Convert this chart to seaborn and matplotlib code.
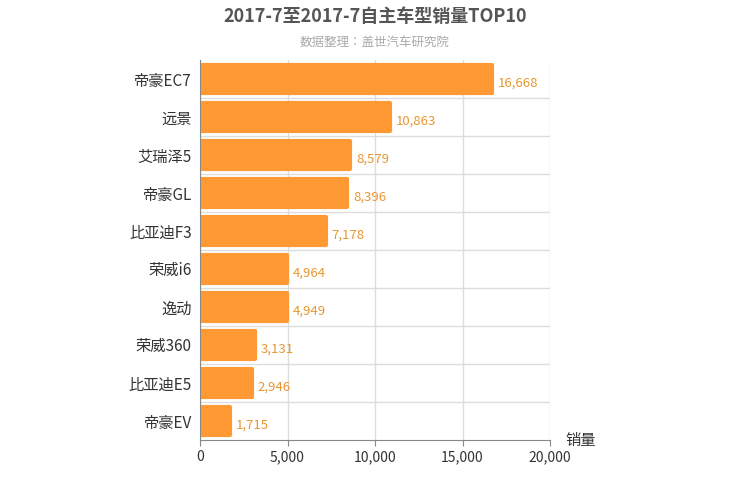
import matplotlib
matplotlib.use("Agg")
import matplotlib.pyplot as plt
from matplotlib import font_manager
import seaborn as sns
import pandas as pd

models = ["帝豪EC7", "远景", "艾瑞泽5", "帝豪GL", "比亚迪F3", "荣威i6", "逸动", "荣威360", "比亚迪E5", "帝豪EV"]
sales = [16668, 10863, 8579, 8396, 7178, 4964, 4949, 3131, 2946, 1715]
xticks = [0, 5000, 10000, 15000, 20000]

names = {f.name for f in font_manager.fontManager.ttflist}
cjk = [n for n in names if "CJK" in n]
plt.rcParams["font.family"] = sorted(cjk, key=lambda n: ("SC" not in n, n)) + ["DejaVu Sans"]
df = pd.DataFrame({"model": models, "sales": sales})

fig = plt.figure(figsize=(7.5, 5), dpi=100)
ax = fig.add_axes([200/750, 60/500, 350/750, 380/500])
sns.barplot(data=df, y="model", x="sales", ax=ax, color="#FF9933", saturation=1,
            width=0.72, edgecolor="#FF9933", linewidth=3)
for p in ax.patches:
    p.set_joinstyle("round")
ax.set_xlim(0, 20000)
ax.set_ylim(len(models) - 0.5, -0.5)
ax.set_xticks(xticks)
ax.set_xticklabels([f"{v:,}" for v in xticks], fontsize=10, color="#333333")
ax.tick_params(axis="y", labelsize=11, colors="#333333", length=0, pad=6)
ax.tick_params(axis="x", length=4, color="#888888")
ax.set_xlabel("")
ax.set_ylabel("")
ax.grid(axis="x", color="#dddddd", lw=1)
for i in range(len(models) - 1):
    ax.axhline(i + 0.5, color="#dddddd", lw=1)
ax.set_axisbelow(True)
for s in ["top", "right"]:
    ax.spines[s].set_visible(False)
ax.spines["left"].set_color("#888888")
ax.spines["bottom"].set_color("#888888")
for i, v in enumerate(sales):
    ax.text(v + 350, i + 0.12, f"{v:,}", va="center", ha="left", fontsize=9.5, color="#E8962F")
fig.text(565/750, 1 - 440/500, "销量", fontsize=11, color="#333333", va="center")
fig.text(375/750, 1 - 17/500, "2017-7至2017-7自主车型销量TOP10", ha="center", va="center",
         fontsize=13, fontweight="bold", color="#555555")
fig.text(375/750, 1 - 42/500, "数据整理：盖世汽车研究院", ha="center", va="center",
         fontsize=9, color="#aaaaaa")
fig.savefig("out.png", dpi=100)
